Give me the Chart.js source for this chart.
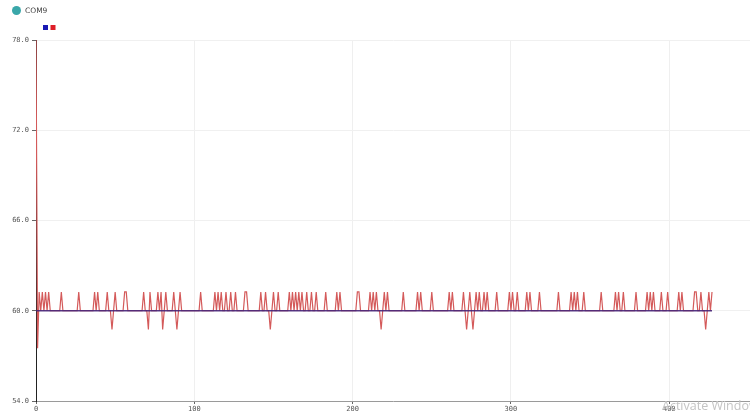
<!DOCTYPE html>
<html>
<head>
<meta charset="utf-8">
<script src="https://cdn.jsdelivr.net/npm/chart.js@4/dist/chart.umd.min.js"></script>
<style>
  html, body { margin: 0; padding: 0; background: #fff; }
  #wrap { position: relative; width: 750px; height: 414px; overflow: hidden; }
  #plot { position: absolute; left: 0; top: 0; }
  #port { position: absolute; left: 12px; top: 6px; font: 7.5px "DejaVu Sans", sans-serif; color: #444; }
  #port span.dot { display: inline-block; width: 9px; height: 9px; border-radius: 50%; background: #3aa7a9; vertical-align: middle; margin-right: 4px; }
  #watermark { position: absolute; left: 662px; top: 397px; font: 12.5px "Open Sans", sans-serif; color: #c4c4c4; white-space: nowrap; }
</style>
</head>
<body>
<div id="wrap">
  <canvas id="plot" width="750" height="414"></canvas>
  <div id="port"><span class="dot"></span>COM9</div>
  <div id="watermark">Activate Windows</div>
</div>
<script>
// serial plotter readings
const sampleCount = 428;          // samples 0..427
const startValues = [78, 57.5];   // first two red samples (start-up spike)
const baseValue = 60;
const highValue = 61.25;
const lowValue = 58.75;
// sample indexes where the red trace jumps up / drops down
const highIdx = [2, 4, 6, 8, 16, 27, 37, 39, 45, 50, 56, 57, 68, 72, 77, 79, 82, 87, 91,
  104, 113, 115, 117, 120, 123, 126, 132, 133, 142, 145, 150, 153, 160, 162, 164, 166, 168,
  171, 174, 177, 183, 190, 192, 203, 204, 211, 213, 215, 220, 222, 232, 241, 243, 250, 261,
  263, 270, 274, 278, 280, 283, 285, 291, 299, 301, 304, 310, 312, 318, 330, 338, 340, 342,
  346, 357, 366, 368, 371, 379, 386, 388, 390, 395, 399, 406, 408, 416, 417, 420, 425, 427];
const lowIdx = [48, 71, 80, 89, 148, 218, 272, 276, 423];
// blue trace: flat at 60 from first to last sample
const blueX = [0, 427];
const blueY = [60, 60];

const yTicks = [54, 60, 66, 72, 78];
const xTicks = [0, 100, 200, 300, 400];

const redPoints = [];
for (let i = 0; i < sampleCount; i++) {
  let v = baseValue;
  if (i < startValues.length) v = startValues[i];
  else if (highIdx.includes(i)) v = highValue;
  else if (lowIdx.includes(i)) v = lowValue;
  redPoints.push({ x: i, y: v });
}
const bluePoints = blueX.map((x, i) => ({ x: x, y: blueY[i] }));

// the two little colour squares top-left
const squares = {
  id: 'squares',
  afterDraw(chart) {
    const ctx = chart.ctx;
    chart.data.datasets.forEach((ds, i) => {
      ctx.fillStyle = ds.backgroundColor;
      ctx.fillRect(43 + i * 7.5, 25, 5, 5);
    });
  }
};

const tickFont = { family: 'DejaVu Sans Mono', size: 7 };

new Chart(document.getElementById('plot'), {
  type: 'line',
  data: {
    datasets: [{
      label: 'value 1',
      data: bluePoints,
      borderColor: 'rgba(70, 35, 120, 0.9)',
      backgroundColor: 'rgb(25, 25, 180)',
      borderWidth: 1.3,
      pointRadius: 0,
      fill: false
    }, {
      label: 'value 2',
      data: redPoints,
      borderColor: 'rgb(212, 90, 90)',
      backgroundColor: 'rgb(222, 30, 40)',
      borderWidth: 1.2,
      pointRadius: 0,
      fill: false
    }]
  },
  options: {
    responsive: false,
    animation: false,
    layout: { padding: { top: 40, right: 0, left: 0, bottom: 0 } },
    plugins: {
      legend: { display: false },
      tooltip: { enabled: false }
    },
    scales: {
      x: {
        type: 'linear',
        min: 0,
        max: 451,
        afterBuildTicks: s => { s.ticks = xTicks.map(v => ({ value: v })); },
        afterFit: s => { s.height = 13; },
        grid: { color: '#efefef', tickColor: '#666', tickLength: 3 },
        border: { color: '#9a9a9a', width: 1 },
        ticks: { font: tickFont, color: '#555', padding: 1, maxRotation: 0 }
      },
      y: {
        min: 54,
        max: 78,
        afterBuildTicks: s => { s.ticks = yTicks.map(v => ({ value: v })); },
        afterFit: s => { s.width = 36; },
        grid: { color: '#f0f0f0', tickColor: '#666', tickLength: 4 },
        border: { color: '#222', width: 1 },
        ticks: { font: tickFont, color: '#555', padding: 3, callback: v => v.toFixed(1) }
      }
    }
  },
  plugins: [squares]
});
</script>
</body>
</html>
